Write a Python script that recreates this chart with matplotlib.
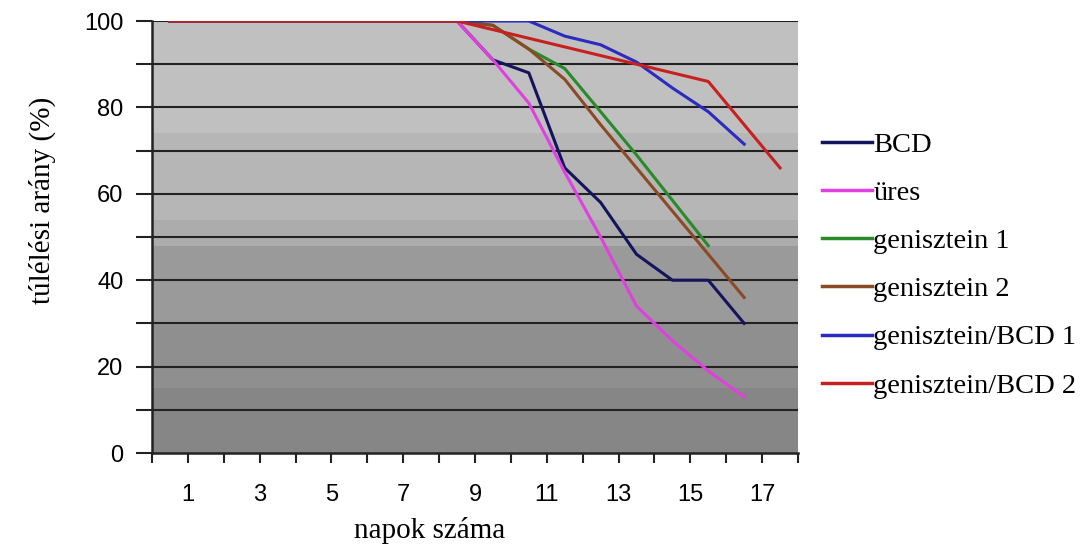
import numpy as np
import matplotlib
matplotlib.use("Agg")
import matplotlib.pyplot as plt

# ---- data ----
x_positions = [0.5, 1.5, 2.5, 3.5, 4.5, 5.5, 6.5, 7.5, 8.5, 9.5, 10.5, 11.5, 12.5, 13.5, 14.5, 15.5, 16.5, 17.5]
bcd = [100, 100, 100, 100, 100, 100, 100, 100, 100, 91, 88, 66, 58, 46, 40, 40, 30]
ures = [100, 100, 100, 100, 100, 100, 100, 100, 100, 91, 81, 65, 50, 34, 26, 19, 13]
gen1 = [100, 100, 100, 100, 100, 100, 100, 100, 100, 99, 93.5, 89, 79, 69, 58.5, 48]
gen2 = [100, 100, 100, 100, 100, 100, 100, 100, 100, 99, 93.5, 86.5, 76, 66, 56, 46, 36]
genbcd1 = [100, 100, 100, 100, 100, 100, 100, 100, 100, 100, 100, 96.5, 94.5, 90.5, 84.5, 79, 71.5]
genbcd2 = [100, 100, 100, 100, 100, 100, 100, 100, 100, 98, 96, 94, 92, 90, 88, 86, 76, 66]

series_names = ["BCD", "üres", "genisztein 1", "genisztein 2", "genisztein/BCD 1", "genisztein/BCD 2"]
series_values = [bcd, ures, gen1, gen2, genbcd1, genbcd2]
series_colors = ["#14145e", "#e040e0", "#2a8a2a", "#8b4a26", "#2b2bbf", "#c82020"]

x_tick_labels = ["1", "3", "5", "7", "9", "11", "13", "15", "17"]
y_tick_labels = ["0", "20", "40", "60", "80", "100"]

W, H = 1091, 549
fig = plt.figure(figsize=(W / 100, H / 100), dpi=100)
fig.patch.set_facecolor("white")
L, R, T, B = 152, 798, 21, 453
ax = fig.add_axes([L / W, 1 - B / H, (R - L) / W, (B - T) / H])

# background stepped gradient
bands = [(100, 74, 192), (74, 54, 182), (54, 48, 172), (48, 30, 154), (30, 15, 143), (15, 0, 134)]
for top, bot, g in bands:
    ax.axhspan(bot, top, color=(g / 255, g / 255, g / 255), zorder=0, lw=0)

ax.set_xlim(0, 18)
ax.set_ylim(0, 100)

# horizontal gridlines
for v in range(10, 101, 10):
    ax.axhline(v, color="#222222", lw=1.5, zorder=1)

for name, vals, col in zip(series_names, series_values, series_colors):
    ax.plot(x_positions[:len(vals)], vals, color=col, lw=2.2, label=name, zorder=3)

serif = ["Liberation Serif", "DejaVu Serif"]
sans = ["Liberation Sans", "DejaVu Sans"]

ax.set_xticks(np.arange(0, 19, 1))
ax.set_xticklabels(["" if i % 2 == 0 else x_tick_labels[(i - 1) // 2] for i in range(19)],
                   fontsize=17, family=sans)
ax.set_yticks(np.arange(0, 101, 10))
ax.set_yticklabels(["" if i % 2 else y_tick_labels[i // 2] for i in range(11)],
                   fontsize=17, family=sans)
ax.tick_params(axis="x", direction="out", length=7, width=1.5, color="#222222", pad=15)
ax.tick_params(axis="y", direction="out", length=11.5, width=1.5, color="#222222", pad=9)

for s in ["top", "right"]:
    ax.spines[s].set_visible(False)
for s in ["left", "bottom"]:
    ax.spines[s].set_color("#222222")
    ax.spines[s].set_linewidth(1.8)

fig.text(430 / W, 1 - 531 / H, "napok száma", ha="center", va="center", fontsize=21, family=serif)
fig.text(42 / W, 1 - 200 / H, "túlélési arány (%)", ha="center", va="center", rotation=90,
         fontsize=21, family=serif)

leg = ax.legend(loc="upper left", bbox_to_anchor=(822 / W, 1 - 132 / H), bbox_transform=fig.transFigure,
                frameon=False, prop={"family": serif, "size": 20.5}, handlelength=1.75,
                handletextpad=0.05, labelspacing=0.78, borderpad=0, borderaxespad=0)
for line in leg.get_lines():
    line.set_linewidth(2.5)

fig.savefig("out.png", dpi=100)
